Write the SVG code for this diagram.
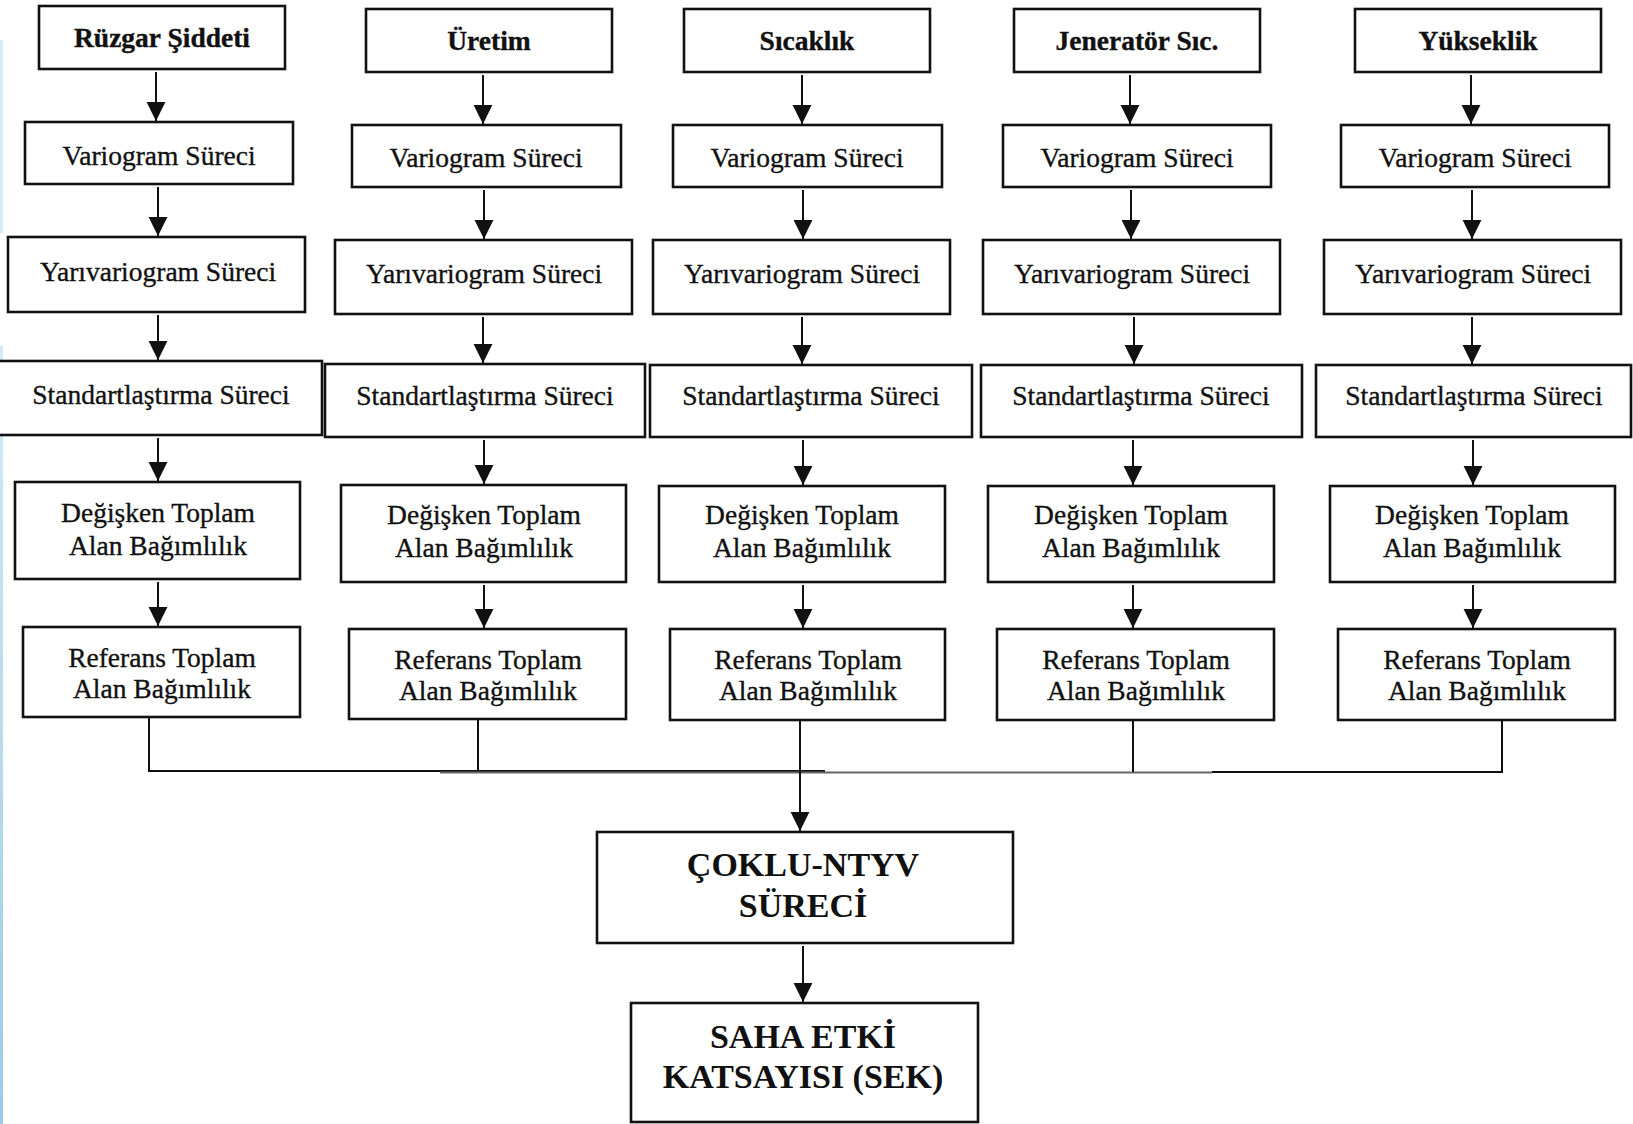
<svg xmlns="http://www.w3.org/2000/svg" width="1633" height="1124" viewBox="0 0 1633 1124">
<style>
.box{fill:#fff;stroke:#111;stroke-width:2.6}
.t{font-family:"Liberation Serif","Times New Roman",serif;font-size:27.5px;fill:#111;stroke:#111;stroke-width:0.35;text-anchor:middle}
.b{font-weight:bold}
.big{font-family:"Liberation Serif","Times New Roman",serif;font-size:34px;font-weight:bold;fill:#111;text-anchor:middle}
.c{stroke:#111;stroke-width:2;fill:none}
.ca{stroke:#111;stroke-width:2;fill:none;marker-end:url(#ah)}
</style>
<defs>
<marker id="ah" markerUnits="userSpaceOnUse" markerWidth="20" markerHeight="20" viewBox="0 -9 17 18" refX="17" refY="0" orient="auto">
<path d="M0,-8.5 L17,0 L0,8.5 z" fill="#111"/>
</marker>
<linearGradient id="bl" x1="0" y1="0" x2="0" y2="1">
<stop offset="0" stop-color="#d3eaf7"/>
<stop offset="1" stop-color="#9ccbe6"/>
</linearGradient>
</defs>
<rect x="0" y="0" width="1633" height="1124" fill="#fff"/>
<rect x="0" y="40" width="3" height="193" fill="#d3eaf7"/>
<rect x="0" y="346" width="3" height="778" fill="url(#bl)"/>

<g id="connectors">
<line class="ca" x1="156" y1="72" x2="156" y2="121"/>
<line class="ca" x1="158" y1="187" x2="158" y2="236"/>
<line class="ca" x1="158" y1="315" x2="158" y2="360"/>
<line class="ca" x1="158" y1="438" x2="158" y2="481"/>
<line class="ca" x1="158" y1="582" x2="158" y2="626"/>

<line class="ca" x1="483" y1="75" x2="483" y2="124"/>
<line class="ca" x1="484" y1="190" x2="484" y2="239"/>
<line class="ca" x1="483" y1="317" x2="483" y2="363"/>
<line class="ca" x1="484" y1="440" x2="484" y2="484"/>
<line class="ca" x1="484" y1="585" x2="484" y2="628"/>

<line class="ca" x1="802" y1="75" x2="802" y2="124"/>
<line class="ca" x1="803" y1="190" x2="803" y2="239"/>
<line class="ca" x1="802" y1="317" x2="802" y2="364"/>
<line class="ca" x1="803" y1="440" x2="803" y2="485"/>
<line class="ca" x1="803" y1="585" x2="803" y2="628"/>

<line class="ca" x1="1130" y1="75" x2="1130" y2="124"/>
<line class="ca" x1="1131" y1="190" x2="1131" y2="239"/>
<line class="ca" x1="1134" y1="317" x2="1134" y2="364"/>
<line class="ca" x1="1133" y1="440" x2="1133" y2="485"/>
<line class="ca" x1="1133" y1="585" x2="1133" y2="628"/>

<line class="ca" x1="1471" y1="75" x2="1471" y2="124"/>
<line class="ca" x1="1472" y1="190" x2="1472" y2="239"/>
<line class="ca" x1="1472" y1="317" x2="1472" y2="364"/>
<line class="ca" x1="1473" y1="440" x2="1473" y2="485"/>
<line class="ca" x1="1473" y1="585" x2="1473" y2="628"/>

<path class="c" d="M149,718 V771 H825"/>
<line class="c" x1="478" y1="720" x2="478" y2="772"/>
<line x1="440" y1="772.5" x2="1212" y2="772.5" stroke="#666" stroke-width="2.2"/>
<path class="c" d="M1212,772 H1502 V721"/>
<line class="c" x1="1133" y1="721" x2="1133" y2="772"/>
<line class="ca" x1="800" y1="721" x2="800" y2="831"/>
<line class="ca" x1="803" y1="946" x2="803" y2="1002"/>
</g>

<g id="n-ruzgar"><rect class="box" x="39" y="6" width="246" height="63"/><text class="t b" x="162" y="47">Rüzgar Şiddeti</text></g>
<g id="n-uretim"><rect class="box" x="366" y="9" width="246" height="63"/><text class="t b" x="489" y="50">Üretim</text></g>
<g id="n-sicaklik"><rect class="box" x="684" y="9" width="246" height="63"/><text class="t b" x="807" y="50">Sıcaklık</text></g>
<g id="n-jenerator"><rect class="box" x="1014" y="9" width="246" height="63"/><text class="t b" x="1137" y="50">Jeneratör Sıc.</text></g>
<g id="n-yukseklik"><rect class="box" x="1355" y="9" width="246" height="63"/><text class="t b" x="1478" y="50">Yükseklik</text></g>

<g id="n-var1"><rect class="box" x="25" y="122" width="268" height="62"/><text class="t" x="159" y="165">Variogram Süreci</text></g>
<g id="n-var2"><rect class="box" x="352" y="125" width="269" height="62"/><text class="t" x="486" y="167">Variogram Süreci</text></g>
<g id="n-var3"><rect class="box" x="673" y="125" width="269" height="62"/><text class="t" x="807" y="167">Variogram Süreci</text></g>
<g id="n-var4"><rect class="box" x="1003" y="125" width="268" height="62"/><text class="t" x="1137" y="167">Variogram Süreci</text></g>
<g id="n-var5"><rect class="box" x="1341" y="125" width="268" height="62"/><text class="t" x="1475" y="167">Variogram Süreci</text></g>

<g id="n-yar1"><rect class="box" x="8" y="237" width="297" height="75"/><text class="t" x="158" y="281">Yarıvariogram Süreci</text></g>
<g id="n-yar2"><rect class="box" x="335" y="240" width="297" height="74"/><text class="t" x="484" y="283">Yarıvariogram Süreci</text></g>
<g id="n-yar3"><rect class="box" x="653" y="240" width="297" height="74"/><text class="t" x="802" y="283">Yarıvariogram Süreci</text></g>
<g id="n-yar4"><rect class="box" x="983" y="240" width="297" height="74"/><text class="t" x="1132" y="283">Yarıvariogram Süreci</text></g>
<g id="n-yar5"><rect class="box" x="1324" y="240" width="297" height="74"/><text class="t" x="1473" y="283">Yarıvariogram Süreci</text></g>

<g id="n-std1"><rect class="box" x="-3" y="361" width="325" height="74"/><text class="t" x="161" y="404">Standartlaştırma Süreci</text></g>
<g id="n-std2"><rect class="box" x="325" y="364" width="320" height="73"/><text class="t" x="485" y="405">Standartlaştırma Süreci</text></g>
<g id="n-std3"><rect class="box" x="650" y="365" width="322" height="72"/><text class="t" x="811" y="405">Standartlaştırma Süreci</text></g>
<g id="n-std4"><rect class="box" x="981" y="365" width="321" height="72"/><text class="t" x="1141" y="405">Standartlaştırma Süreci</text></g>
<g id="n-std5"><rect class="box" x="1316" y="365" width="315" height="72"/><text class="t" x="1474" y="405">Standartlaştırma Süreci</text></g>

<g id="n-deg1"><rect class="box" x="15" y="482" width="285" height="97"/><text class="t" x="158" y="522">Değişken Toplam</text><text class="t" x="158" y="555">Alan Bağımlılık</text></g>
<g id="n-deg2"><rect class="box" x="341" y="485" width="285" height="97"/><text class="t" x="484" y="524">Değişken Toplam</text><text class="t" x="484" y="557">Alan Bağımlılık</text></g>
<g id="n-deg3"><rect class="box" x="659" y="486" width="286" height="96"/><text class="t" x="802" y="524">Değişken Toplam</text><text class="t" x="802" y="557">Alan Bağımlılık</text></g>
<g id="n-deg4"><rect class="box" x="988" y="486" width="286" height="96"/><text class="t" x="1131" y="524">Değişken Toplam</text><text class="t" x="1131" y="557">Alan Bağımlılık</text></g>
<g id="n-deg5"><rect class="box" x="1330" y="486" width="285" height="96"/><text class="t" x="1472" y="524">Değişken Toplam</text><text class="t" x="1472" y="557">Alan Bağımlılık</text></g>

<g id="n-ref1"><rect class="box" x="23" y="627" width="277" height="90"/><text class="t" x="162" y="667">Referans Toplam</text><text class="t" x="162" y="698">Alan Bağımlılık</text></g>
<g id="n-ref2"><rect class="box" x="349" y="629" width="277" height="90"/><text class="t" x="488" y="669">Referans Toplam</text><text class="t" x="488" y="700">Alan Bağımlılık</text></g>
<g id="n-ref3"><rect class="box" x="670" y="629" width="275" height="91"/><text class="t" x="808" y="669">Referans Toplam</text><text class="t" x="808" y="700">Alan Bağımlılık</text></g>
<g id="n-ref4"><rect class="box" x="997" y="629" width="277" height="91"/><text class="t" x="1136" y="669">Referans Toplam</text><text class="t" x="1136" y="700">Alan Bağımlılık</text></g>
<g id="n-ref5"><rect class="box" x="1338" y="629" width="277" height="91"/><text class="t" x="1477" y="669">Referans Toplam</text><text class="t" x="1477" y="700">Alan Bağımlılık</text></g>

<g id="n-coklu"><rect class="box" x="597" y="832" width="416" height="111"/><text class="big" x="803" y="876">ÇOKLU-NTYV</text><text class="big" x="803" y="917">SÜRECİ</text></g>
<g id="n-sek"><rect class="box" x="631" y="1003" width="347" height="119"/><text class="big" x="803" y="1048">SAHA ETKİ</text><text class="big" x="803" y="1088">KATSAYISI (SEK)</text></g>
</svg>
